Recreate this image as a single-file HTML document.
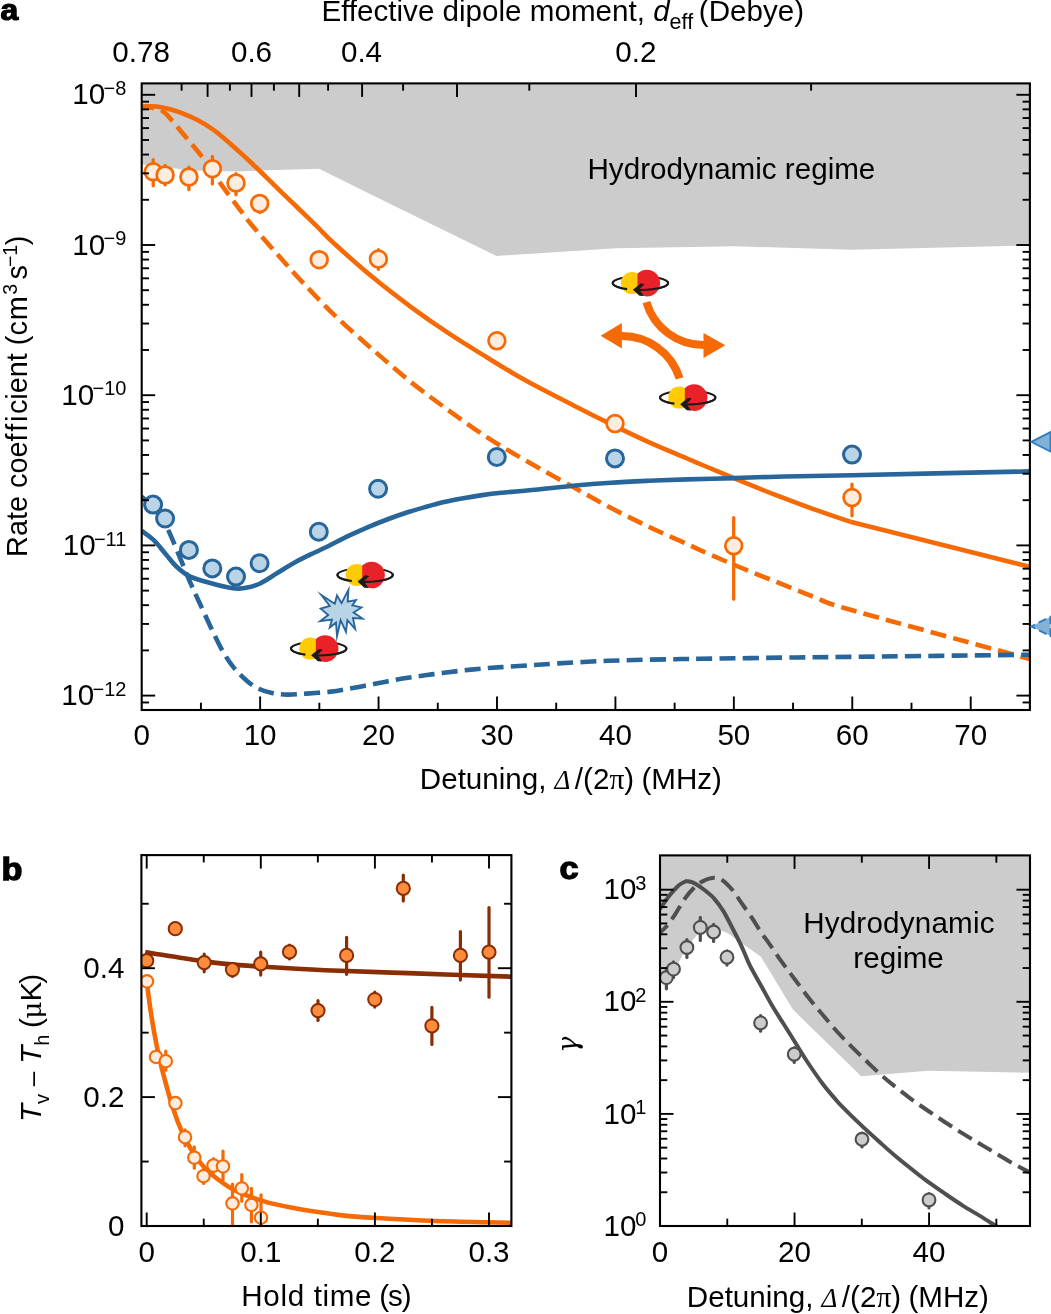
<!DOCTYPE html>
<html lang="en"><head><meta charset="utf-8"><title>Figure</title>
<style>html,body{margin:0;padding:0;background:#fff;}svg{display:block;}</style></head>
<body>
<svg width="1051" height="1314" viewBox="0 0 1051 1314">
<rect width="1051" height="1314" fill="#fff"/>
<clipPath id="clipA"><rect x="141.7" y="83.4" width="888.2" height="626.6"/></clipPath>
<g clip-path="url(#clipA)">
<path d="M141.7 83.4L1029.9 83.4L1029.9 245.5L852.3 249.8L735.7 246.3L616.4 248.2L496.5 256L378.6 198.3L319 168.7L260.1 170.6L236.4 171.5L212.8 170.9L189.1 170.4L165.4 167L153.5 165.5L141.7 164.5Z" fill="#cccccc"/>
<path d="M141.7 106.6C143.08 106.55 146.95 106.23 150 106.3C153.05 106.37 156.67 106.52 160 107C163.33 107.48 166.23 108.15 170 109.2C173.77 110.25 178.1 111.53 182.6 113.3C187.1 115.07 192.27 117.32 197 119.8C201.73 122.28 206.75 125.33 211 128.2C215.25 131.07 218.67 133.87 222.5 137C226.33 140.13 230.17 143.6 234 147C237.83 150.4 241.7 153.9 245.5 157.4C249.3 160.9 251.12 162.5 256.8 168C262.48 173.5 272.4 183.4 279.6 190.4C286.8 197.4 293.65 203.87 300 210C306.35 216.13 311.87 221.48 317.7 227.2C323.53 232.92 325.77 235.9 335 244.3C344.23 252.7 360.42 267.13 373.1 277.6C385.78 288.07 398.42 297.75 411.1 307.1C423.78 316.45 436.52 325.3 449.2 333.7C461.88 342.1 474.52 349.73 487.2 357.5C499.88 365.27 510.98 372.35 525.3 380.3C539.62 388.25 558.17 397.57 573.1 405.2C588.03 412.83 602.22 419.92 614.9 426.1C627.58 432.28 637.15 436.9 649.2 442.3C661.25 447.7 678.73 454.88 687.2 458.5C695.67 462.12 691.52 460.43 700 464C708.48 467.57 725.42 474.7 738.1 479.9C750.78 485.1 763.42 490.28 776.1 495.2C788.78 500.12 801.83 504.97 814.2 509.4C826.57 513.83 844.28 519.73 850.3 521.8" fill="none" stroke="#f66a05" stroke-width="4.6" stroke-linejoin="round"/>
<path d="M850.3 521.8L1029.9 566.8" fill="none" stroke="#f66a05" stroke-width="4.6" stroke-linejoin="round"/>
<path d="M141.7 106.6C143.08 106.73 147.62 107.03 150 107.4C152.38 107.77 153.75 108.1 156 108.8C158.25 109.5 160.83 109.65 163.5 111.6C166.17 113.55 168.82 116.88 172 120.5C175.18 124.12 177.67 127.37 182.6 133.3C187.53 139.23 195.27 147.7 201.6 156.1C207.93 164.5 214.25 174.82 220.6 183.7C226.95 192.58 234.3 202.27 239.7 209.4C245.1 216.53 246.62 218.9 253 226.5C259.38 234.1 269.68 245.63 278 255C286.32 264.37 293.4 272.6 302.9 282.7C312.4 292.8 323.3 304.4 335 315.6C346.7 326.8 360.42 338.8 373.1 349.9C385.78 361 398.42 372.05 411.1 382.2C423.78 392.35 436.52 401.6 449.2 410.8C461.88 420 474.52 429.15 487.2 437.4C499.88 445.65 510.98 452.03 525.3 460.3C539.62 468.57 558.8 479.05 573.1 487C587.4 494.95 598.42 501.33 611.1 508C623.78 514.67 636.52 520.98 649.2 527C661.88 533.02 678.25 540.05 687.2 544.1C696.15 548.15 694.42 547.57 702.9 551.3C711.38 555.03 725.9 561.42 738.1 566.5C750.3 571.58 763.42 576.72 776.1 581.8C788.78 586.88 801.52 592.25 814.2 597C826.88 601.75 816.25 599.97 852.2 610.3C888.15 620.63 1000.28 650.88 1029.9 659" fill="none" stroke="#f66a05" stroke-width="4.6" stroke-dasharray="16 7.2" stroke-linejoin="round" stroke-dashoffset="3.5"/>
<path d="M141.7 530.9C143.75 532.48 150.05 536.6 154 540.4C157.95 544.2 161.58 549.27 165.4 553.7C169.22 558.13 172.77 563.18 176.9 567C181.03 570.82 184.5 573.9 190.2 576.6C195.9 579.3 205.08 581.47 211.1 583.2C217.12 584.93 221.85 586.1 226.3 587C230.75 587.9 234.3 588.5 237.8 588.6C241.3 588.7 243.5 588.5 247.3 587.6C251.1 586.7 255.53 585.67 260.6 583.2C265.67 580.73 271.67 576.45 277.7 572.8C283.73 569.15 290.45 564.77 296.8 561.3C303.15 557.83 310.27 554.68 315.8 552C321.33 549.32 324.47 547.92 330 545.2C335.53 542.48 342.65 538.72 349 535.7C355.35 532.68 361.75 529.8 368.1 527.1C374.45 524.4 380.77 521.88 387.1 519.5C393.43 517.12 399.77 514.87 406.1 512.8C412.43 510.73 418.75 508.9 425.1 507.1C431.45 505.3 437.85 503.48 444.2 502C450.55 500.52 456.87 499.35 463.2 498.2C469.53 497.05 475.85 496 482.2 495.1C488.55 494.2 492.5 493.68 501.3 492.8C510.1 491.92 523.03 490.98 535 489.8C546.97 488.62 560.42 486.88 573.1 485.7C585.78 484.52 598.42 483.52 611.1 482.7C623.78 481.88 636.52 481.35 649.2 480.8C661.88 480.25 672.9 479.85 687.2 479.4C701.5 478.95 720.18 478.55 735 478.1C749.82 477.65 756.57 477.18 776.1 476.7C795.63 476.22 809.9 476.08 852.2 475.2C894.5 474.32 1000.28 472.03 1029.9 471.4" fill="none" stroke="#27659a" stroke-width="4.6" stroke-linejoin="round"/>
<path d="M141.7 496.6C143.58 498.33 149.12 502.43 153 507C156.88 511.57 161.97 519.07 165 524C168.03 528.93 168.58 530.7 171.2 536.6C173.82 542.5 177.53 551.78 180.7 559.4C183.87 567.02 187.03 575 190.2 582.3C193.37 589.6 196.22 595.6 199.7 603.2C203.18 610.8 207.3 619.97 211.1 627.9C214.9 635.83 218.68 644.13 222.5 650.8C226.32 657.47 229.87 662.83 234 667.9C238.13 672.97 243.18 677.72 247.3 681.2C251.42 684.68 254.58 686.83 258.7 688.8C262.82 690.77 267.25 692.03 272 693C276.75 693.97 281.48 694.5 287.2 694.6C292.92 694.7 299 694.1 306.3 693.6C313.6 693.1 323.88 692.43 331 691.6C338.12 690.77 342.82 689.67 349 688.6C355.18 687.53 361.75 686.4 368.1 685.2C374.45 684 380.77 682.6 387.1 681.4C393.43 680.2 399.77 679.02 406.1 678C412.43 676.98 418.75 676.17 425.1 675.3C431.45 674.43 437.85 673.6 444.2 672.8C450.55 672 456.87 671.2 463.2 670.5C469.53 669.8 475.85 669.17 482.2 668.6C488.55 668.03 493.68 667.63 501.3 667.1C508.92 666.57 518.43 666.02 527.9 665.4C537.37 664.78 546.73 664.08 558.1 663.4C569.47 662.72 583.42 661.87 596.1 661.3C608.78 660.73 621.22 660.35 634.2 660C647.18 659.65 663.03 659.4 674 659.2C684.97 659 679.82 659.08 700 658.8C720.18 658.52 770.1 657.82 795.1 657.5C820.1 657.18 810.87 657.37 850 656.9C889.13 656.43 999.92 655.07 1029.9 654.7" fill="none" stroke="#27659a" stroke-width="4.6" stroke-dasharray="16 7.2" stroke-linejoin="round" stroke-dashoffset="3.5"/>
</g>
<line x1="153.2" y1="159.65" x2="153.2" y2="185.85" stroke="#f66a05" stroke-width="3.3" stroke-linecap="round"/>
<line x1="165.1" y1="165.35" x2="165.1" y2="184.95" stroke="#f66a05" stroke-width="3.3" stroke-linecap="round"/>
<line x1="188.9" y1="167.25" x2="188.9" y2="189.65" stroke="#f66a05" stroke-width="3.3" stroke-linecap="round"/>
<line x1="212.4" y1="156.45" x2="212.4" y2="183.95" stroke="#f66a05" stroke-width="3.3" stroke-linecap="round"/>
<line x1="236" y1="173.55" x2="236" y2="194.85" stroke="#f66a05" stroke-width="3.3" stroke-linecap="round"/>
<line x1="259.7" y1="195.85" x2="259.7" y2="212.55" stroke="#f66a05" stroke-width="3.3" stroke-linecap="round"/>
<line x1="378.4" y1="249.65" x2="378.4" y2="269.25" stroke="#f66a05" stroke-width="3.3" stroke-linecap="round"/>
<line x1="733.7" y1="517.75" x2="733.7" y2="599.15" stroke="#f66a05" stroke-width="3.3" stroke-linecap="round"/>
<line x1="852" y1="484.05" x2="852" y2="515.75" stroke="#f66a05" stroke-width="3.3" stroke-linecap="round"/>
<circle cx="153.2" cy="171.8" r="8.4" fill="#feecdf" stroke="#f66a05" stroke-width="2.7"/>
<circle cx="165.1" cy="175" r="8.4" fill="#feecdf" stroke="#f66a05" stroke-width="2.7"/>
<circle cx="188.9" cy="177" r="8.4" fill="#feecdf" stroke="#f66a05" stroke-width="2.7"/>
<circle cx="212.4" cy="168.7" r="8.4" fill="#feecdf" stroke="#f66a05" stroke-width="2.7"/>
<circle cx="236" cy="183" r="8.4" fill="#feecdf" stroke="#f66a05" stroke-width="2.7"/>
<circle cx="259.7" cy="203.5" r="8.4" fill="#feecdf" stroke="#f66a05" stroke-width="2.7"/>
<circle cx="319.2" cy="259.7" r="8.4" fill="#feecdf" stroke="#f66a05" stroke-width="2.7"/>
<circle cx="378.4" cy="259.1" r="8.4" fill="#feecdf" stroke="#f66a05" stroke-width="2.7"/>
<circle cx="496.9" cy="340.8" r="8.4" fill="#feecdf" stroke="#f66a05" stroke-width="2.7"/>
<circle cx="615" cy="423.6" r="8.4" fill="#feecdf" stroke="#f66a05" stroke-width="2.7"/>
<circle cx="733.7" cy="545.8" r="8.4" fill="#feecdf" stroke="#f66a05" stroke-width="2.7"/>
<circle cx="852" cy="497.6" r="8.4" fill="#feecdf" stroke="#f66a05" stroke-width="2.7"/>
<circle cx="153.1" cy="504.6" r="8.5" fill="#bad4e7" stroke="#27659a" stroke-width="3"/>
<circle cx="165.1" cy="518.5" r="8.5" fill="#bad4e7" stroke="#27659a" stroke-width="3"/>
<circle cx="188.9" cy="549.9" r="8.5" fill="#bad4e7" stroke="#27659a" stroke-width="3"/>
<circle cx="212.3" cy="568.4" r="8.5" fill="#bad4e7" stroke="#27659a" stroke-width="3"/>
<circle cx="236" cy="576.6" r="8.5" fill="#bad4e7" stroke="#27659a" stroke-width="3"/>
<circle cx="259.6" cy="563.2" r="8.5" fill="#bad4e7" stroke="#27659a" stroke-width="3"/>
<circle cx="318.8" cy="531.8" r="8.5" fill="#bad4e7" stroke="#27659a" stroke-width="3"/>
<circle cx="378.1" cy="488.7" r="8.5" fill="#bad4e7" stroke="#27659a" stroke-width="3"/>
<circle cx="496.8" cy="457" r="8.5" fill="#bad4e7" stroke="#27659a" stroke-width="3"/>
<circle cx="615" cy="458.4" r="8.5" fill="#bad4e7" stroke="#27659a" stroke-width="3"/>
<circle cx="852" cy="454.6" r="8.5" fill="#bad4e7" stroke="#27659a" stroke-width="3"/>
<ellipse cx="365.1" cy="575" rx="27.7" ry="6.9" fill="none" stroke="#1a1a1a" stroke-width="1.9"/>
<circle cx="356.65" cy="575" r="11" fill="#ffcb05"/>
<path d="M362.2 565.54A13.3 13.3 0 1 1 362.2 584.46Z" fill="#e9222a"/>
<path d="M392.25 573.63A27.7 6.9 0 0 1 363.74 581.89" fill="none" stroke="#1a1a1a" stroke-width="2.1"/>
<path d="M351.84 581.06A27.7 6.9 0 0 1 338.32 573.24" fill="none" stroke="#1a1a1a" stroke-width="2.1"/>
<path d="M357.55 581.6L365.25 575.3L369.25 575.9L363.85 581.3L368.55 587.9L364.25 587.7Z" fill="#1a1a1a"/>
<ellipse cx="318.7" cy="648.6" rx="27.7" ry="6.9" fill="none" stroke="#1a1a1a" stroke-width="1.9"/>
<circle cx="310.25" cy="648.6" r="11" fill="#ffcb05"/>
<path d="M315.8 639.14A13.3 13.3 0 1 1 315.8 658.06Z" fill="#e9222a"/>
<path d="M345.85 647.23A27.7 6.9 0 0 1 317.34 655.49" fill="none" stroke="#1a1a1a" stroke-width="2.1"/>
<path d="M305.44 654.66A27.7 6.9 0 0 1 291.92 646.84" fill="none" stroke="#1a1a1a" stroke-width="2.1"/>
<path d="M311.15 655.2L318.85 648.9L322.85 649.5L317.45 654.9L322.15 661.5L317.85 661.3Z" fill="#1a1a1a"/>
<ellipse cx="640.4" cy="283.1" rx="27.7" ry="6.9" fill="none" stroke="#1a1a1a" stroke-width="1.9"/>
<circle cx="631.95" cy="283.1" r="11" fill="#ffcb05"/>
<path d="M637.5 273.64A13.3 13.3 0 1 1 637.5 292.56Z" fill="#e9222a"/>
<path d="M667.55 281.73A27.7 6.9 0 0 1 639.04 289.99" fill="none" stroke="#1a1a1a" stroke-width="2.1"/>
<path d="M627.14 289.16A27.7 6.9 0 0 1 613.62 281.34" fill="none" stroke="#1a1a1a" stroke-width="2.1"/>
<path d="M632.85 289.7L640.55 283.4L644.55 284L639.15 289.4L643.85 296L639.55 295.8Z" fill="#1a1a1a"/>
<ellipse cx="687.7" cy="397.6" rx="27.7" ry="6.9" fill="none" stroke="#1a1a1a" stroke-width="1.9"/>
<circle cx="679.25" cy="397.6" r="11" fill="#ffcb05"/>
<path d="M684.8 388.14A13.3 13.3 0 1 1 684.8 407.06Z" fill="#e9222a"/>
<path d="M714.85 396.23A27.7 6.9 0 0 1 686.34 404.49" fill="none" stroke="#1a1a1a" stroke-width="2.1"/>
<path d="M674.44 403.66A27.7 6.9 0 0 1 660.92 395.84" fill="none" stroke="#1a1a1a" stroke-width="2.1"/>
<path d="M680.15 404.2L687.85 397.9L691.85 398.5L686.45 403.9L691.15 410.5L686.85 410.3Z" fill="#1a1a1a"/>
<path d="M321.23 594.9L334.74 603.81L337.01 595.41L341.54 603.19L348.44 589.88L347.72 601.65L355.94 600.03L352.36 605.36L361.48 607.46L353.6 612.47L362.5 618.57L352.98 618.03L355.18 628.99L347.41 620.2L345.94 631.95L340.61 620.2L337.01 636.19L335.97 622.67L329.8 627.55L331.95 619.58L320.21 621.2L328.24 614.94L320.68 608.64L329.79 605.97Z" fill="#bad4e7" stroke="#27659a" stroke-width="1.85" stroke-linejoin="miter" stroke-miterlimit="12"/>
<path d="M646.4 302.1A59.5 59.5 0 0 0 704.5 345.0" fill="none" stroke="#f66a05" stroke-width="8"/>
<path d="M703.5 332.9L725.4 345.3L703.5 357.9Z" fill="#f66a05"/>
<path d="M679.6 378.4A60.2 60.2 0 0 0 621.0 336.0" fill="none" stroke="#f66a05" stroke-width="8"/>
<path d="M621.9 323.1L600.6 335.8L621.9 348.5Z" fill="#f66a05"/>
<line x1="200.91" y1="710" x2="200.91" y2="702.7" stroke="#000" stroke-width="1.9"/>
<line x1="260.13" y1="710" x2="260.13" y2="696.5" stroke="#000" stroke-width="1.9"/>
<line x1="319.35" y1="710" x2="319.35" y2="702.7" stroke="#000" stroke-width="1.9"/>
<line x1="378.56" y1="710" x2="378.56" y2="696.5" stroke="#000" stroke-width="1.9"/>
<line x1="437.77" y1="710" x2="437.77" y2="702.7" stroke="#000" stroke-width="1.9"/>
<line x1="496.99" y1="710" x2="496.99" y2="696.5" stroke="#000" stroke-width="1.9"/>
<line x1="556.2" y1="710" x2="556.2" y2="702.7" stroke="#000" stroke-width="1.9"/>
<line x1="615.42" y1="710" x2="615.42" y2="696.5" stroke="#000" stroke-width="1.9"/>
<line x1="674.63" y1="710" x2="674.63" y2="702.7" stroke="#000" stroke-width="1.9"/>
<line x1="733.85" y1="710" x2="733.85" y2="696.5" stroke="#000" stroke-width="1.9"/>
<line x1="793.07" y1="710" x2="793.07" y2="702.7" stroke="#000" stroke-width="1.9"/>
<line x1="852.28" y1="710" x2="852.28" y2="696.5" stroke="#000" stroke-width="1.9"/>
<line x1="911.49" y1="710" x2="911.49" y2="702.7" stroke="#000" stroke-width="1.9"/>
<line x1="970.71" y1="710" x2="970.71" y2="696.5" stroke="#000" stroke-width="1.9"/>
<line x1="207.6" y1="83.4" x2="207.6" y2="96.9" stroke="#000" stroke-width="1.9"/>
<line x1="251.5" y1="83.4" x2="251.5" y2="96.9" stroke="#000" stroke-width="1.9"/>
<line x1="299.2" y1="83.4" x2="299.2" y2="96.9" stroke="#000" stroke-width="1.9"/>
<line x1="362.1" y1="83.4" x2="362.1" y2="96.9" stroke="#000" stroke-width="1.9"/>
<line x1="457" y1="83.4" x2="457" y2="96.9" stroke="#000" stroke-width="1.9"/>
<line x1="636" y1="83.4" x2="636" y2="96.9" stroke="#000" stroke-width="1.9"/>
<line x1="181.6" y1="83.4" x2="181.6" y2="90.7" stroke="#000" stroke-width="1.9"/>
<line x1="229.9" y1="83.4" x2="229.9" y2="90.7" stroke="#000" stroke-width="1.9"/>
<line x1="273.9" y1="83.4" x2="273.9" y2="90.7" stroke="#000" stroke-width="1.9"/>
<line x1="328.1" y1="83.4" x2="328.1" y2="90.7" stroke="#000" stroke-width="1.9"/>
<line x1="403.1" y1="83.4" x2="403.1" y2="90.7" stroke="#000" stroke-width="1.9"/>
<line x1="529.3" y1="83.4" x2="529.3" y2="90.7" stroke="#000" stroke-width="1.9"/>
<line x1="811.1" y1="83.4" x2="811.1" y2="90.7" stroke="#000" stroke-width="1.9"/>
<line x1="141.7" y1="702.47" x2="149" y2="702.47" stroke="#000" stroke-width="1.9"/>
<line x1="1029.9" y1="702.47" x2="1022.6" y2="702.47" stroke="#000" stroke-width="1.9"/>
<line x1="141.7" y1="695.6" x2="155.2" y2="695.6" stroke="#000" stroke-width="1.9"/>
<line x1="1029.9" y1="695.6" x2="1016.4" y2="695.6" stroke="#000" stroke-width="1.9"/>
<line x1="141.7" y1="650.39" x2="149" y2="650.39" stroke="#000" stroke-width="1.9"/>
<line x1="1029.9" y1="650.39" x2="1022.6" y2="650.39" stroke="#000" stroke-width="1.9"/>
<line x1="141.7" y1="623.94" x2="149" y2="623.94" stroke="#000" stroke-width="1.9"/>
<line x1="1029.9" y1="623.94" x2="1022.6" y2="623.94" stroke="#000" stroke-width="1.9"/>
<line x1="141.7" y1="605.17" x2="149" y2="605.17" stroke="#000" stroke-width="1.9"/>
<line x1="1029.9" y1="605.17" x2="1022.6" y2="605.17" stroke="#000" stroke-width="1.9"/>
<line x1="141.7" y1="590.61" x2="149" y2="590.61" stroke="#000" stroke-width="1.9"/>
<line x1="1029.9" y1="590.61" x2="1022.6" y2="590.61" stroke="#000" stroke-width="1.9"/>
<line x1="141.7" y1="578.72" x2="149" y2="578.72" stroke="#000" stroke-width="1.9"/>
<line x1="1029.9" y1="578.72" x2="1022.6" y2="578.72" stroke="#000" stroke-width="1.9"/>
<line x1="141.7" y1="568.67" x2="149" y2="568.67" stroke="#000" stroke-width="1.9"/>
<line x1="1029.9" y1="568.67" x2="1022.6" y2="568.67" stroke="#000" stroke-width="1.9"/>
<line x1="141.7" y1="559.96" x2="149" y2="559.96" stroke="#000" stroke-width="1.9"/>
<line x1="1029.9" y1="559.96" x2="1022.6" y2="559.96" stroke="#000" stroke-width="1.9"/>
<line x1="141.7" y1="552.27" x2="149" y2="552.27" stroke="#000" stroke-width="1.9"/>
<line x1="1029.9" y1="552.27" x2="1022.6" y2="552.27" stroke="#000" stroke-width="1.9"/>
<line x1="141.7" y1="545.4" x2="155.2" y2="545.4" stroke="#000" stroke-width="1.9"/>
<line x1="1029.9" y1="545.4" x2="1016.4" y2="545.4" stroke="#000" stroke-width="1.9"/>
<line x1="141.7" y1="500.19" x2="149" y2="500.19" stroke="#000" stroke-width="1.9"/>
<line x1="1029.9" y1="500.19" x2="1022.6" y2="500.19" stroke="#000" stroke-width="1.9"/>
<line x1="141.7" y1="473.74" x2="149" y2="473.74" stroke="#000" stroke-width="1.9"/>
<line x1="1029.9" y1="473.74" x2="1022.6" y2="473.74" stroke="#000" stroke-width="1.9"/>
<line x1="141.7" y1="454.97" x2="149" y2="454.97" stroke="#000" stroke-width="1.9"/>
<line x1="1029.9" y1="454.97" x2="1022.6" y2="454.97" stroke="#000" stroke-width="1.9"/>
<line x1="141.7" y1="440.41" x2="149" y2="440.41" stroke="#000" stroke-width="1.9"/>
<line x1="1029.9" y1="440.41" x2="1022.6" y2="440.41" stroke="#000" stroke-width="1.9"/>
<line x1="141.7" y1="428.52" x2="149" y2="428.52" stroke="#000" stroke-width="1.9"/>
<line x1="1029.9" y1="428.52" x2="1022.6" y2="428.52" stroke="#000" stroke-width="1.9"/>
<line x1="141.7" y1="418.47" x2="149" y2="418.47" stroke="#000" stroke-width="1.9"/>
<line x1="1029.9" y1="418.47" x2="1022.6" y2="418.47" stroke="#000" stroke-width="1.9"/>
<line x1="141.7" y1="409.76" x2="149" y2="409.76" stroke="#000" stroke-width="1.9"/>
<line x1="1029.9" y1="409.76" x2="1022.6" y2="409.76" stroke="#000" stroke-width="1.9"/>
<line x1="141.7" y1="402.07" x2="149" y2="402.07" stroke="#000" stroke-width="1.9"/>
<line x1="1029.9" y1="402.07" x2="1022.6" y2="402.07" stroke="#000" stroke-width="1.9"/>
<line x1="141.7" y1="395.2" x2="155.2" y2="395.2" stroke="#000" stroke-width="1.9"/>
<line x1="1029.9" y1="395.2" x2="1016.4" y2="395.2" stroke="#000" stroke-width="1.9"/>
<line x1="141.7" y1="349.99" x2="149" y2="349.99" stroke="#000" stroke-width="1.9"/>
<line x1="1029.9" y1="349.99" x2="1022.6" y2="349.99" stroke="#000" stroke-width="1.9"/>
<line x1="141.7" y1="323.54" x2="149" y2="323.54" stroke="#000" stroke-width="1.9"/>
<line x1="1029.9" y1="323.54" x2="1022.6" y2="323.54" stroke="#000" stroke-width="1.9"/>
<line x1="141.7" y1="304.77" x2="149" y2="304.77" stroke="#000" stroke-width="1.9"/>
<line x1="1029.9" y1="304.77" x2="1022.6" y2="304.77" stroke="#000" stroke-width="1.9"/>
<line x1="141.7" y1="290.21" x2="149" y2="290.21" stroke="#000" stroke-width="1.9"/>
<line x1="1029.9" y1="290.21" x2="1022.6" y2="290.21" stroke="#000" stroke-width="1.9"/>
<line x1="141.7" y1="278.32" x2="149" y2="278.32" stroke="#000" stroke-width="1.9"/>
<line x1="1029.9" y1="278.32" x2="1022.6" y2="278.32" stroke="#000" stroke-width="1.9"/>
<line x1="141.7" y1="268.27" x2="149" y2="268.27" stroke="#000" stroke-width="1.9"/>
<line x1="1029.9" y1="268.27" x2="1022.6" y2="268.27" stroke="#000" stroke-width="1.9"/>
<line x1="141.7" y1="259.56" x2="149" y2="259.56" stroke="#000" stroke-width="1.9"/>
<line x1="1029.9" y1="259.56" x2="1022.6" y2="259.56" stroke="#000" stroke-width="1.9"/>
<line x1="141.7" y1="251.87" x2="149" y2="251.87" stroke="#000" stroke-width="1.9"/>
<line x1="1029.9" y1="251.87" x2="1022.6" y2="251.87" stroke="#000" stroke-width="1.9"/>
<line x1="141.7" y1="245" x2="155.2" y2="245" stroke="#000" stroke-width="1.9"/>
<line x1="1029.9" y1="245" x2="1016.4" y2="245" stroke="#000" stroke-width="1.9"/>
<line x1="141.7" y1="199.79" x2="149" y2="199.79" stroke="#000" stroke-width="1.9"/>
<line x1="1029.9" y1="199.79" x2="1022.6" y2="199.79" stroke="#000" stroke-width="1.9"/>
<line x1="141.7" y1="173.34" x2="149" y2="173.34" stroke="#000" stroke-width="1.9"/>
<line x1="1029.9" y1="173.34" x2="1022.6" y2="173.34" stroke="#000" stroke-width="1.9"/>
<line x1="141.7" y1="154.57" x2="149" y2="154.57" stroke="#000" stroke-width="1.9"/>
<line x1="1029.9" y1="154.57" x2="1022.6" y2="154.57" stroke="#000" stroke-width="1.9"/>
<line x1="141.7" y1="140.01" x2="149" y2="140.01" stroke="#000" stroke-width="1.9"/>
<line x1="1029.9" y1="140.01" x2="1022.6" y2="140.01" stroke="#000" stroke-width="1.9"/>
<line x1="141.7" y1="128.12" x2="149" y2="128.12" stroke="#000" stroke-width="1.9"/>
<line x1="1029.9" y1="128.12" x2="1022.6" y2="128.12" stroke="#000" stroke-width="1.9"/>
<line x1="141.7" y1="118.07" x2="149" y2="118.07" stroke="#000" stroke-width="1.9"/>
<line x1="1029.9" y1="118.07" x2="1022.6" y2="118.07" stroke="#000" stroke-width="1.9"/>
<line x1="141.7" y1="109.36" x2="149" y2="109.36" stroke="#000" stroke-width="1.9"/>
<line x1="1029.9" y1="109.36" x2="1022.6" y2="109.36" stroke="#000" stroke-width="1.9"/>
<line x1="141.7" y1="101.67" x2="149" y2="101.67" stroke="#000" stroke-width="1.9"/>
<line x1="1029.9" y1="101.67" x2="1022.6" y2="101.67" stroke="#000" stroke-width="1.9"/>
<line x1="141.7" y1="94.8" x2="155.2" y2="94.8" stroke="#000" stroke-width="1.9"/>
<line x1="1029.9" y1="94.8" x2="1016.4" y2="94.8" stroke="#000" stroke-width="1.9"/>
<rect x="141.7" y="83.4" width="888.2" height="626.6" fill="none" stroke="#000" stroke-width="2.1"/>
<path d="M1031.3 441.8L1050.5 432.1L1050.5 451.5Z" fill="#82b3d6" stroke="#2d7dc0" stroke-width="1.9" stroke-linejoin="miter"/>
<path d="M1031.3 626.4L1050.5 616.7L1050.5 636.1Z" fill="#82b3d6" stroke="#2d7dc0" stroke-width="1.9" stroke-dasharray="8.4 4.0" stroke-dashoffset="4.2"/>
<clipPath id="clipB"><rect x="141.4" y="855.1" width="370" height="370.9"/></clipPath>
<g clip-path="url(#clipB)">
<path d="M145.2 951.9C147.67 952.35 154.6 953.7 160 954.6C165.4 955.5 170.93 956.28 177.6 957.3C184.27 958.32 192.07 959.6 200 960.7C207.93 961.8 214.67 962.88 225.2 963.9C235.73 964.92 246.57 965.75 263.2 966.8C279.83 967.85 299.68 969.1 325 970.2C350.32 971.3 384.03 972.32 415.1 973.4C446.17 974.48 495.35 976.15 511.4 976.7" fill="none" stroke="#8a2d04" stroke-width="4.6" stroke-linejoin="round"/>
<path d="M147 984C147.72 989.23 149.7 1005.2 151.3 1015.4C152.9 1025.6 154.83 1036.33 156.6 1045.2C158.37 1054.07 159.23 1058.3 161.9 1068.6C164.57 1078.9 169.05 1095.98 172.6 1107C176.15 1118.02 179.65 1126.9 183.2 1134.7C186.75 1142.5 190.35 1148.3 193.9 1153.8C197.45 1159.3 200.95 1163.78 204.5 1167.7C208.05 1171.62 210.58 1173.75 215.2 1177.3C219.82 1180.85 226.52 1185.82 232.2 1189C237.88 1192.18 243.27 1194.13 249.3 1196.4C255.33 1198.67 261.67 1200.78 268.4 1202.6C275.13 1204.42 282.6 1205.9 289.7 1207.3C296.8 1208.7 301.92 1209.62 311 1211C320.08 1212.38 333.92 1214.47 344.2 1215.6C354.48 1216.73 358.43 1216.93 372.7 1217.8C386.97 1218.67 410.77 1220.05 429.8 1220.8C448.83 1221.55 473.3 1221.97 486.9 1222.3C500.5 1222.63 507.32 1222.72 511.4 1222.8" fill="none" stroke="#f66a05" stroke-width="4.6" stroke-linejoin="round"/>
<line x1="204.2" y1="954.1" x2="204.2" y2="971.8" stroke="#8a2d04" stroke-width="3.2" stroke-linecap="round"/>
<line x1="232.4" y1="964.6" x2="232.4" y2="976.6" stroke="#8a2d04" stroke-width="3.2" stroke-linecap="round"/>
<line x1="260.7" y1="952.2" x2="260.7" y2="975.1" stroke="#8a2d04" stroke-width="3.2" stroke-linecap="round"/>
<line x1="289.5" y1="945.2" x2="289.5" y2="958.9" stroke="#8a2d04" stroke-width="3.2" stroke-linecap="round"/>
<line x1="318" y1="1000.7" x2="318" y2="1020.4" stroke="#8a2d04" stroke-width="3.2" stroke-linecap="round"/>
<line x1="346.6" y1="937.4" x2="346.6" y2="974.3" stroke="#8a2d04" stroke-width="3.2" stroke-linecap="round"/>
<line x1="374.8" y1="992.2" x2="374.8" y2="1007.1" stroke="#8a2d04" stroke-width="3.2" stroke-linecap="round"/>
<line x1="403.3" y1="875.1" x2="403.3" y2="900.9" stroke="#8a2d04" stroke-width="3.2" stroke-linecap="round"/>
<line x1="431.9" y1="1007.4" x2="431.9" y2="1044.4" stroke="#8a2d04" stroke-width="3.2" stroke-linecap="round"/>
<line x1="460.4" y1="931.6" x2="460.4" y2="980" stroke="#8a2d04" stroke-width="3.2" stroke-linecap="round"/>
<line x1="489" y1="907.5" x2="489" y2="997.2" stroke="#8a2d04" stroke-width="3.2" stroke-linecap="round"/>
<circle cx="146.7" cy="960.7" r="6.6" fill="#fd8d3c" stroke="#8a2d04" stroke-width="2"/>
<circle cx="175.3" cy="928.7" r="6.6" fill="#fd8d3c" stroke="#8a2d04" stroke-width="2"/>
<circle cx="204.2" cy="962.6" r="6.6" fill="#fd8d3c" stroke="#8a2d04" stroke-width="2"/>
<circle cx="232.4" cy="969.6" r="6.6" fill="#fd8d3c" stroke="#8a2d04" stroke-width="2"/>
<circle cx="260.7" cy="963.9" r="6.6" fill="#fd8d3c" stroke="#8a2d04" stroke-width="2"/>
<circle cx="289.5" cy="951.9" r="6.6" fill="#fd8d3c" stroke="#8a2d04" stroke-width="2"/>
<circle cx="318" cy="1010.6" r="6.6" fill="#fd8d3c" stroke="#8a2d04" stroke-width="2"/>
<circle cx="346.6" cy="955.4" r="6.6" fill="#fd8d3c" stroke="#8a2d04" stroke-width="2"/>
<circle cx="374.8" cy="999.5" r="6.6" fill="#fd8d3c" stroke="#8a2d04" stroke-width="2"/>
<circle cx="403.3" cy="888.4" r="6.6" fill="#fd8d3c" stroke="#8a2d04" stroke-width="2"/>
<circle cx="431.9" cy="1025.8" r="6.6" fill="#fd8d3c" stroke="#8a2d04" stroke-width="2"/>
<circle cx="460.4" cy="955.4" r="6.6" fill="#fd8d3c" stroke="#8a2d04" stroke-width="2"/>
<circle cx="489" cy="952.1" r="6.6" fill="#fd8d3c" stroke="#8a2d04" stroke-width="2"/>
<line x1="165.8" y1="1051.1" x2="165.8" y2="1070.2" stroke="#f66a05" stroke-width="3.2" stroke-linecap="round"/>
<line x1="185" y1="1129.9" x2="185" y2="1145.8" stroke="#f66a05" stroke-width="3.2" stroke-linecap="round"/>
<line x1="194.3" y1="1146.9" x2="194.3" y2="1168.2" stroke="#f66a05" stroke-width="3.2" stroke-linecap="round"/>
<line x1="203.5" y1="1169.6" x2="203.5" y2="1183.4" stroke="#f66a05" stroke-width="3.2" stroke-linecap="round"/>
<line x1="213.5" y1="1158.6" x2="213.5" y2="1172.4" stroke="#f66a05" stroke-width="3.2" stroke-linecap="round"/>
<line x1="223" y1="1151.2" x2="223" y2="1179.9" stroke="#f66a05" stroke-width="3.2" stroke-linecap="round"/>
<line x1="232.5" y1="1184.2" x2="232.5" y2="1224.4" stroke="#f66a05" stroke-width="3.2" stroke-linecap="round"/>
<line x1="241.8" y1="1174.6" x2="241.8" y2="1201.2" stroke="#f66a05" stroke-width="3.2" stroke-linecap="round"/>
<line x1="251.4" y1="1188.4" x2="251.4" y2="1221.9" stroke="#f66a05" stroke-width="3.2" stroke-linecap="round"/>
<line x1="261" y1="1194.8" x2="261" y2="1224.4" stroke="#f66a05" stroke-width="3.2" stroke-linecap="round"/>
<circle cx="147" cy="981.3" r="6.2" fill="#feecdf" stroke="#f66a05" stroke-width="2.1"/>
<circle cx="156" cy="1056.9" r="6.2" fill="#feecdf" stroke="#f66a05" stroke-width="2.1"/>
<circle cx="165.8" cy="1061.2" r="6.2" fill="#feecdf" stroke="#f66a05" stroke-width="2.1"/>
<circle cx="175.4" cy="1103.1" r="6.2" fill="#feecdf" stroke="#f66a05" stroke-width="2.1"/>
<circle cx="185" cy="1137.2" r="6.2" fill="#feecdf" stroke="#f66a05" stroke-width="2.1"/>
<circle cx="194.3" cy="1157.7" r="6.2" fill="#feecdf" stroke="#f66a05" stroke-width="2.1"/>
<circle cx="203.5" cy="1176.2" r="6.2" fill="#feecdf" stroke="#f66a05" stroke-width="2.1"/>
<circle cx="213.5" cy="1165.5" r="6.2" fill="#feecdf" stroke="#f66a05" stroke-width="2.1"/>
<circle cx="223" cy="1166.4" r="6.2" fill="#feecdf" stroke="#f66a05" stroke-width="2.1"/>
<circle cx="232.5" cy="1203.3" r="6.2" fill="#feecdf" stroke="#f66a05" stroke-width="2.1"/>
<circle cx="241.8" cy="1188.4" r="6.2" fill="#feecdf" stroke="#f66a05" stroke-width="2.1"/>
<circle cx="251.4" cy="1204.8" r="6.2" fill="#feecdf" stroke="#f66a05" stroke-width="2.1"/>
<circle cx="261" cy="1217.7" r="6.2" fill="#feecdf" stroke="#f66a05" stroke-width="2.1"/>
</g>
<line x1="146.7" y1="1226" x2="146.7" y2="1212.5" stroke="#000" stroke-width="1.9"/>
<line x1="146.7" y1="855.1" x2="146.7" y2="868.6" stroke="#000" stroke-width="1.9"/>
<line x1="203.75" y1="1226" x2="203.75" y2="1218.7" stroke="#000" stroke-width="1.9"/>
<line x1="203.75" y1="855.1" x2="203.75" y2="862.4" stroke="#000" stroke-width="1.9"/>
<line x1="260.8" y1="1226" x2="260.8" y2="1212.5" stroke="#000" stroke-width="1.9"/>
<line x1="260.8" y1="855.1" x2="260.8" y2="868.6" stroke="#000" stroke-width="1.9"/>
<line x1="317.85" y1="1226" x2="317.85" y2="1218.7" stroke="#000" stroke-width="1.9"/>
<line x1="317.85" y1="855.1" x2="317.85" y2="862.4" stroke="#000" stroke-width="1.9"/>
<line x1="374.9" y1="1226" x2="374.9" y2="1212.5" stroke="#000" stroke-width="1.9"/>
<line x1="374.9" y1="855.1" x2="374.9" y2="868.6" stroke="#000" stroke-width="1.9"/>
<line x1="431.95" y1="1226" x2="431.95" y2="1218.7" stroke="#000" stroke-width="1.9"/>
<line x1="431.95" y1="855.1" x2="431.95" y2="862.4" stroke="#000" stroke-width="1.9"/>
<line x1="489" y1="1226" x2="489" y2="1212.5" stroke="#000" stroke-width="1.9"/>
<line x1="489" y1="855.1" x2="489" y2="868.6" stroke="#000" stroke-width="1.9"/>
<line x1="141.4" y1="1161.55" x2="148.7" y2="1161.55" stroke="#000" stroke-width="1.9"/>
<line x1="511.4" y1="1161.55" x2="504.1" y2="1161.55" stroke="#000" stroke-width="1.9"/>
<line x1="141.4" y1="1097.1" x2="154.9" y2="1097.1" stroke="#000" stroke-width="1.9"/>
<line x1="511.4" y1="1097.1" x2="497.9" y2="1097.1" stroke="#000" stroke-width="1.9"/>
<line x1="141.4" y1="1032.65" x2="148.7" y2="1032.65" stroke="#000" stroke-width="1.9"/>
<line x1="511.4" y1="1032.65" x2="504.1" y2="1032.65" stroke="#000" stroke-width="1.9"/>
<line x1="141.4" y1="968.2" x2="154.9" y2="968.2" stroke="#000" stroke-width="1.9"/>
<line x1="511.4" y1="968.2" x2="497.9" y2="968.2" stroke="#000" stroke-width="1.9"/>
<line x1="141.4" y1="903.75" x2="148.7" y2="903.75" stroke="#000" stroke-width="1.9"/>
<line x1="511.4" y1="903.75" x2="504.1" y2="903.75" stroke="#000" stroke-width="1.9"/>
<rect x="141.4" y="855.1" width="370" height="370.9" fill="none" stroke="#000" stroke-width="2.1"/>
<clipPath id="clipC"><rect x="660" y="855.4" width="370" height="370.6"/></clipPath>
<g clip-path="url(#clipC)">
<path d="M660 855.4L1030 855.4L1030 1072.8L928.3 1070.7L861.2 1076.2L792.9 1009.6L760.9 956.7L727.3 933.1L713.8 927.4L700.4 931L686.9 947.4L673.5 971.4L666.7 978.8L660 982Z" fill="#cccccc"/>
<path d="M660 909C661.45 906.92 665.73 900.28 668.7 896.5C671.67 892.72 675.42 888.62 677.8 886.3C680.18 883.98 681.57 883.47 683 882.6C684.43 881.73 685.83 881.35 686.4 881.1L686.4 881.1C687.08 881.22 689.07 881.42 690.5 881.8C691.93 882.18 692.73 882.08 695 883.4C697.27 884.72 700.87 887.13 704.1 889.7C707.33 892.27 711.17 895.18 714.4 898.8C717.63 902.42 720.47 906.45 723.5 911.4C726.53 916.35 729.55 922.6 732.6 928.5C735.65 934.4 738.9 940.6 741.8 946.8C744.7 953 746.73 959.13 750 965.7C753.27 972.27 757.6 979.35 761.4 986.2C765.2 993.05 768.98 1000.33 772.8 1006.8C776.62 1013.27 780.48 1018.92 784.3 1025C788.12 1031.08 791.9 1037.22 795.7 1043.3C799.5 1049.38 802.58 1054.72 807.1 1061.5C811.62 1068.28 818.27 1077.93 822.8 1084C827.33 1090.07 831.43 1094.52 834.3 1097.9C837.17 1101.28 835.88 1100.1 840 1104.3C844.12 1108.5 852.5 1116.9 859 1123.1C865.5 1129.3 872.78 1135.88 879 1141.5C885.22 1147.12 889.47 1151.08 896.3 1156.8C903.13 1162.52 914.63 1171.57 920 1175.8C925.37 1180.03 924.22 1179.13 928.5 1182.2C932.78 1185.27 939.98 1190.3 945.7 1194.2C951.42 1198.1 957.1 1201.98 962.8 1205.6C968.5 1209.22 974.77 1212.75 979.9 1215.9C985.03 1219.05 989.75 1222.07 993.6 1224.5C997.45 1226.93 1001.43 1229.5 1003 1230.5" fill="none" stroke="#4f4f4f" stroke-width="4.0" stroke-linejoin="round"/>
<path d="M660 932.6C661.27 931.35 665 928.25 667.6 925.1C670.2 921.95 672.75 918.08 675.6 913.7C678.45 909.32 681.67 903.08 684.7 898.8C687.73 894.52 690.75 890.95 693.8 888C696.85 885.05 699.57 882.82 703 881.1C706.43 879.38 710.98 877.7 714.4 877.7C717.82 877.7 720.47 879 723.5 881.1C726.53 883.2 729.55 886.58 732.6 890.3C735.65 894.02 738.55 898.75 741.8 903.4C745.05 908.05 748.68 913.07 752.1 918.2C755.52 923.33 759.6 930.18 762.3 934.2C765 938.22 765.02 937.63 768.3 942.3C771.58 946.97 777.43 955.83 782 962.2C786.57 968.57 791.13 974.4 795.7 980.5C800.27 986.6 804.83 993 809.4 998.8C813.97 1004.6 818.35 1009.68 823.1 1015.3C827.85 1020.92 832.95 1027.07 837.9 1032.5C842.85 1037.93 847.85 1042.95 852.8 1047.9C857.75 1052.85 862.55 1057.4 867.6 1062.2C872.65 1067 876.22 1070.85 883.1 1076.7C889.98 1082.55 900.3 1090.87 908.9 1097.3C917.5 1103.73 926.1 1109.5 934.7 1115.3C943.3 1121.1 951.9 1126.72 960.5 1132.1C969.1 1137.48 977.7 1142.45 986.3 1147.6C994.9 1152.75 1004.82 1158.83 1012.1 1163C1019.38 1167.17 1027.02 1171 1030 1172.6" fill="none" stroke="#4f4f4f" stroke-width="4" stroke-dasharray="16 7.2" stroke-linejoin="round" stroke-dashoffset="5.5"/>
<line x1="666.4" y1="968.4" x2="666.4" y2="988.8" stroke="#4f4f4f" stroke-width="3.2" stroke-linecap="round"/>
<line x1="673.5" y1="961.9" x2="673.5" y2="977.6" stroke="#4f4f4f" stroke-width="3.2" stroke-linecap="round"/>
<line x1="686.9" y1="939.6" x2="686.9" y2="957.4" stroke="#4f4f4f" stroke-width="3.2" stroke-linecap="round"/>
<line x1="700.3" y1="917.4" x2="700.3" y2="940.4" stroke="#4f4f4f" stroke-width="3.2" stroke-linecap="round"/>
<line x1="713.6" y1="924.3" x2="713.6" y2="941.4" stroke="#4f4f4f" stroke-width="3.2" stroke-linecap="round"/>
<line x1="727" y1="950.8" x2="727" y2="965.1" stroke="#4f4f4f" stroke-width="3.2" stroke-linecap="round"/>
<line x1="760.6" y1="1015.6" x2="760.6" y2="1031.2" stroke="#4f4f4f" stroke-width="3.2" stroke-linecap="round"/>
<line x1="794.2" y1="1047.6" x2="794.2" y2="1062.4" stroke="#4f4f4f" stroke-width="3.2" stroke-linecap="round"/>
<line x1="862" y1="1133.1" x2="862" y2="1146.9" stroke="#4f4f4f" stroke-width="3.2" stroke-linecap="round"/>
<line x1="929" y1="1193.6" x2="929" y2="1207.9" stroke="#4f4f4f" stroke-width="3.2" stroke-linecap="round"/>
<circle cx="666.4" cy="977.6" r="6.4" fill="#cccccc" stroke="#4f4f4f" stroke-width="2.1"/>
<circle cx="673.5" cy="969.1" r="6.4" fill="#cccccc" stroke="#4f4f4f" stroke-width="2.1"/>
<circle cx="686.9" cy="947.5" r="6.4" fill="#cccccc" stroke="#4f4f4f" stroke-width="2.1"/>
<circle cx="700.3" cy="927.4" r="6.4" fill="#cccccc" stroke="#4f4f4f" stroke-width="2.1"/>
<circle cx="713.6" cy="932" r="6.4" fill="#cccccc" stroke="#4f4f4f" stroke-width="2.1"/>
<circle cx="727" cy="957.2" r="6.4" fill="#cccccc" stroke="#4f4f4f" stroke-width="2.1"/>
<circle cx="760.6" cy="1022.9" r="6.4" fill="#cccccc" stroke="#4f4f4f" stroke-width="2.1"/>
<circle cx="794.2" cy="1054.2" r="6.4" fill="#cccccc" stroke="#4f4f4f" stroke-width="2.1"/>
<circle cx="862" cy="1139.3" r="6.4" fill="#cccccc" stroke="#4f4f4f" stroke-width="2.1"/>
<circle cx="929" cy="1199.9" r="6.4" fill="#cccccc" stroke="#4f4f4f" stroke-width="2.1"/>
</g>
<line x1="727.27" y1="1226" x2="727.27" y2="1218.7" stroke="#000" stroke-width="1.9"/>
<line x1="727.27" y1="855.4" x2="727.27" y2="862.7" stroke="#000" stroke-width="1.9"/>
<line x1="794.54" y1="1226" x2="794.54" y2="1212.5" stroke="#000" stroke-width="1.9"/>
<line x1="794.54" y1="855.4" x2="794.54" y2="868.9" stroke="#000" stroke-width="1.9"/>
<line x1="861.81" y1="1226" x2="861.81" y2="1218.7" stroke="#000" stroke-width="1.9"/>
<line x1="861.81" y1="855.4" x2="861.81" y2="862.7" stroke="#000" stroke-width="1.9"/>
<line x1="929.08" y1="1226" x2="929.08" y2="1212.5" stroke="#000" stroke-width="1.9"/>
<line x1="929.08" y1="855.4" x2="929.08" y2="868.9" stroke="#000" stroke-width="1.9"/>
<line x1="996.35" y1="1226" x2="996.35" y2="1218.7" stroke="#000" stroke-width="1.9"/>
<line x1="996.35" y1="855.4" x2="996.35" y2="862.7" stroke="#000" stroke-width="1.9"/>
<line x1="660" y1="1192.25" x2="667.3" y2="1192.25" stroke="#000" stroke-width="1.9"/>
<line x1="1030" y1="1192.25" x2="1022.7" y2="1192.25" stroke="#000" stroke-width="1.9"/>
<line x1="660" y1="1172.51" x2="667.3" y2="1172.51" stroke="#000" stroke-width="1.9"/>
<line x1="1030" y1="1172.51" x2="1022.7" y2="1172.51" stroke="#000" stroke-width="1.9"/>
<line x1="660" y1="1158.51" x2="667.3" y2="1158.51" stroke="#000" stroke-width="1.9"/>
<line x1="1030" y1="1158.51" x2="1022.7" y2="1158.51" stroke="#000" stroke-width="1.9"/>
<line x1="660" y1="1147.65" x2="667.3" y2="1147.65" stroke="#000" stroke-width="1.9"/>
<line x1="1030" y1="1147.65" x2="1022.7" y2="1147.65" stroke="#000" stroke-width="1.9"/>
<line x1="660" y1="1138.77" x2="667.3" y2="1138.77" stroke="#000" stroke-width="1.9"/>
<line x1="1030" y1="1138.77" x2="1022.7" y2="1138.77" stroke="#000" stroke-width="1.9"/>
<line x1="660" y1="1131.26" x2="667.3" y2="1131.26" stroke="#000" stroke-width="1.9"/>
<line x1="1030" y1="1131.26" x2="1022.7" y2="1131.26" stroke="#000" stroke-width="1.9"/>
<line x1="660" y1="1124.76" x2="667.3" y2="1124.76" stroke="#000" stroke-width="1.9"/>
<line x1="1030" y1="1124.76" x2="1022.7" y2="1124.76" stroke="#000" stroke-width="1.9"/>
<line x1="660" y1="1119.03" x2="667.3" y2="1119.03" stroke="#000" stroke-width="1.9"/>
<line x1="1030" y1="1119.03" x2="1022.7" y2="1119.03" stroke="#000" stroke-width="1.9"/>
<line x1="660" y1="1113.9" x2="673.5" y2="1113.9" stroke="#000" stroke-width="1.9"/>
<line x1="1030" y1="1113.9" x2="1016.5" y2="1113.9" stroke="#000" stroke-width="1.9"/>
<line x1="660" y1="1080.15" x2="667.3" y2="1080.15" stroke="#000" stroke-width="1.9"/>
<line x1="1030" y1="1080.15" x2="1022.7" y2="1080.15" stroke="#000" stroke-width="1.9"/>
<line x1="660" y1="1060.41" x2="667.3" y2="1060.41" stroke="#000" stroke-width="1.9"/>
<line x1="1030" y1="1060.41" x2="1022.7" y2="1060.41" stroke="#000" stroke-width="1.9"/>
<line x1="660" y1="1046.41" x2="667.3" y2="1046.41" stroke="#000" stroke-width="1.9"/>
<line x1="1030" y1="1046.41" x2="1022.7" y2="1046.41" stroke="#000" stroke-width="1.9"/>
<line x1="660" y1="1035.55" x2="667.3" y2="1035.55" stroke="#000" stroke-width="1.9"/>
<line x1="1030" y1="1035.55" x2="1022.7" y2="1035.55" stroke="#000" stroke-width="1.9"/>
<line x1="660" y1="1026.67" x2="667.3" y2="1026.67" stroke="#000" stroke-width="1.9"/>
<line x1="1030" y1="1026.67" x2="1022.7" y2="1026.67" stroke="#000" stroke-width="1.9"/>
<line x1="660" y1="1019.16" x2="667.3" y2="1019.16" stroke="#000" stroke-width="1.9"/>
<line x1="1030" y1="1019.16" x2="1022.7" y2="1019.16" stroke="#000" stroke-width="1.9"/>
<line x1="660" y1="1012.66" x2="667.3" y2="1012.66" stroke="#000" stroke-width="1.9"/>
<line x1="1030" y1="1012.66" x2="1022.7" y2="1012.66" stroke="#000" stroke-width="1.9"/>
<line x1="660" y1="1006.93" x2="667.3" y2="1006.93" stroke="#000" stroke-width="1.9"/>
<line x1="1030" y1="1006.93" x2="1022.7" y2="1006.93" stroke="#000" stroke-width="1.9"/>
<line x1="660" y1="1001.8" x2="673.5" y2="1001.8" stroke="#000" stroke-width="1.9"/>
<line x1="1030" y1="1001.8" x2="1016.5" y2="1001.8" stroke="#000" stroke-width="1.9"/>
<line x1="660" y1="968.05" x2="667.3" y2="968.05" stroke="#000" stroke-width="1.9"/>
<line x1="1030" y1="968.05" x2="1022.7" y2="968.05" stroke="#000" stroke-width="1.9"/>
<line x1="660" y1="948.31" x2="667.3" y2="948.31" stroke="#000" stroke-width="1.9"/>
<line x1="1030" y1="948.31" x2="1022.7" y2="948.31" stroke="#000" stroke-width="1.9"/>
<line x1="660" y1="934.31" x2="667.3" y2="934.31" stroke="#000" stroke-width="1.9"/>
<line x1="1030" y1="934.31" x2="1022.7" y2="934.31" stroke="#000" stroke-width="1.9"/>
<line x1="660" y1="923.45" x2="667.3" y2="923.45" stroke="#000" stroke-width="1.9"/>
<line x1="1030" y1="923.45" x2="1022.7" y2="923.45" stroke="#000" stroke-width="1.9"/>
<line x1="660" y1="914.57" x2="667.3" y2="914.57" stroke="#000" stroke-width="1.9"/>
<line x1="1030" y1="914.57" x2="1022.7" y2="914.57" stroke="#000" stroke-width="1.9"/>
<line x1="660" y1="907.06" x2="667.3" y2="907.06" stroke="#000" stroke-width="1.9"/>
<line x1="1030" y1="907.06" x2="1022.7" y2="907.06" stroke="#000" stroke-width="1.9"/>
<line x1="660" y1="900.56" x2="667.3" y2="900.56" stroke="#000" stroke-width="1.9"/>
<line x1="1030" y1="900.56" x2="1022.7" y2="900.56" stroke="#000" stroke-width="1.9"/>
<line x1="660" y1="894.83" x2="667.3" y2="894.83" stroke="#000" stroke-width="1.9"/>
<line x1="1030" y1="894.83" x2="1022.7" y2="894.83" stroke="#000" stroke-width="1.9"/>
<line x1="660" y1="889.7" x2="673.5" y2="889.7" stroke="#000" stroke-width="1.9"/>
<line x1="1030" y1="889.7" x2="1016.5" y2="889.7" stroke="#000" stroke-width="1.9"/>
<rect x="660" y="855.4" width="370" height="370.6" fill="none" stroke="#000" stroke-width="2.1"/>
<g opacity="0.999">
<text transform="translate(0.4 19.7) scale(1.08 1)" font-family='"Liberation Sans", sans-serif' font-size="29.5" font-weight="bold" stroke="#000" stroke-width="1.2">a</text>
<text x="321.4" y="21" font-family='"Liberation Sans", sans-serif' font-size="29.6">Effective dipole moment, <tspan font-style="italic">d</tspan><tspan font-size="21.5" dy="7.5">eff</tspan><tspan dy="-7.5" dx="-2.5"> (Debye)</tspan></text>
<text x="141.1" y="62.3" font-family='"Liberation Sans", sans-serif' font-size="29.6" text-anchor="middle">0.78</text>
<text x="251.5" y="62.3" font-family='"Liberation Sans", sans-serif' font-size="29.6" text-anchor="middle">0.6</text>
<text x="361.5" y="62.3" font-family='"Liberation Sans", sans-serif' font-size="29.6" text-anchor="middle">0.4</text>
<text x="635.8" y="62.3" font-family='"Liberation Sans", sans-serif' font-size="29.6" text-anchor="middle">0.2</text>
<text x="141.7" y="745.2" font-family='"Liberation Sans", sans-serif' font-size="29.6" text-anchor="middle">0</text>
<text x="260.13" y="745.2" font-family='"Liberation Sans", sans-serif' font-size="29.6" text-anchor="middle">10</text>
<text x="378.56" y="745.2" font-family='"Liberation Sans", sans-serif' font-size="29.6" text-anchor="middle">20</text>
<text x="496.99" y="745.2" font-family='"Liberation Sans", sans-serif' font-size="29.6" text-anchor="middle">30</text>
<text x="615.42" y="745.2" font-family='"Liberation Sans", sans-serif' font-size="29.6" text-anchor="middle">40</text>
<text x="733.85" y="745.2" font-family='"Liberation Sans", sans-serif' font-size="29.6" text-anchor="middle">50</text>
<text x="852.28" y="745.2" font-family='"Liberation Sans", sans-serif' font-size="29.6" text-anchor="middle">60</text>
<text x="970.71" y="745.2" font-family='"Liberation Sans", sans-serif' font-size="29.6" text-anchor="middle">70</text>
<text x="126.4" y="705.2" font-family='"Liberation Sans", sans-serif' font-size="29.6" text-anchor="end">10<tspan font-size="20" dy="-9.4" dx="-1.7">−12</tspan></text>
<text x="126.4" y="555" font-family='"Liberation Sans", sans-serif' font-size="29.6" text-anchor="end">10<tspan font-size="20" dy="-9.4" dx="-1.7">−11</tspan></text>
<text x="126.4" y="404.8" font-family='"Liberation Sans", sans-serif' font-size="29.6" text-anchor="end">10<tspan font-size="20" dy="-9.4" dx="-1.7">−10</tspan></text>
<text x="126.4" y="254.6" font-family='"Liberation Sans", sans-serif' font-size="29.6" text-anchor="end">10<tspan font-size="20" dy="-9.4" dx="-1.7">−9</tspan></text>
<text x="126.4" y="104.4" font-family='"Liberation Sans", sans-serif' font-size="29.6" text-anchor="end">10<tspan font-size="20" dy="-9.4" dx="-1.7">−8</tspan></text>
<text transform="translate(26.8 556.9) rotate(-90) scale(0.975 1)" font-family='"Liberation Sans", sans-serif' font-size="29.6">Rate coef<tspan dx="1.7">f</tspan><tspan dx="1.7">i</tspan><tspan dx="1.6">cient (c</tspan><tspan dx="1">m</tspan><tspan font-size="20" dy="-9.4" dx="1.5">3</tspan><tspan dy="9.4" dx="-3.8"> s</tspan><tspan font-size="20" dy="-9.4" dx="-2.0">−1</tspan><tspan dy="9.4" dx="-0.5">)</tspan></text>
<text x="419.8" y="788.8" font-family='"Liberation Sans", sans-serif' font-size="29.6">Detuning,<tspan font-family='"Liberation Serif", serif' font-style="italic" font-size="27" dx="8">Δ</tspan><tspan dx="4.5">/(2</tspan><tspan font-family='"Liberation Serif", serif'>π</tspan>)<tspan dx="-1"> (MHz)</tspan></text>
<text x="587.5" y="178.7" font-family='"Liberation Sans", sans-serif' font-size="29.6">Hydrodynamic regime</text>
<text transform="translate(1.4 879.8) scale(1.09 1)" font-family='"Liberation Sans", sans-serif' font-size="31.5" font-weight="bold" stroke="#000" stroke-width="1.3">b</text>
<text x="124.5" y="978.4" font-family='"Liberation Sans", sans-serif' font-size="29.6" text-anchor="end">0.4</text>
<text x="124.5" y="1107.3" font-family='"Liberation Sans", sans-serif' font-size="29.6" text-anchor="end">0.2</text>
<text x="124.5" y="1236.2" font-family='"Liberation Sans", sans-serif' font-size="29.6" text-anchor="end">0</text>
<text x="146.7" y="1262.2" font-family='"Liberation Sans", sans-serif' font-size="29.6" text-anchor="middle">0</text>
<text x="260.8" y="1262.2" font-family='"Liberation Sans", sans-serif' font-size="29.6" text-anchor="middle">0.1</text>
<text x="374.9" y="1262.2" font-family='"Liberation Sans", sans-serif' font-size="29.6" text-anchor="middle">0.2</text>
<text x="489" y="1262.2" font-family='"Liberation Sans", sans-serif' font-size="29.6" text-anchor="middle">0.3</text>
<text x="241.2" y="1306.4" font-family='"Liberation Sans", sans-serif' font-size="29.6"><tspan letter-spacing="0.7">Hold</tspan><tspan letter-spacing="0.6"> time</tspan><tspan letter-spacing="-1"> (s)</tspan></text>
<text transform="translate(40.5 1122.0) rotate(-90)" font-family='"Liberation Sans", sans-serif' font-size="29.6"><tspan font-style="italic">T</tspan><tspan font-size="20" dy="8.5">v</tspan><tspan dy="-8.5" dx="0.5" font-size="26"> –</tspan><tspan dx="-0.3"> </tspan><tspan font-style="italic">T</tspan><tspan font-size="20" dy="8.5">h</tspan><tspan dy="-8.5" dx="-1.6"> (</tspan><tspan font-family='"DejaVu Serif", serif' font-size="26.5" dx="-0.5">μ</tspan><tspan dx="0">K</tspan><tspan dx="-2">)</tspan></text>
<text transform="translate(559.4 879.0) scale(1.12 1)" font-family='"Liberation Sans", sans-serif' font-size="30.5" font-weight="bold" stroke="#000" stroke-width="1.3">c</text>
<text x="646.4" y="1235.6" font-family='"Liberation Sans", sans-serif' font-size="29.6" text-anchor="end">10<tspan font-size="20" dy="-9.4" dx="-1.2">0</tspan></text>
<text x="646.4" y="1123.5" font-family='"Liberation Sans", sans-serif' font-size="29.6" text-anchor="end">10<tspan font-size="20" dy="-9.4" dx="-1.2">1</tspan></text>
<text x="646.4" y="1011.4" font-family='"Liberation Sans", sans-serif' font-size="29.6" text-anchor="end">10<tspan font-size="20" dy="-9.4" dx="-1.2">2</tspan></text>
<text x="646.4" y="899.3" font-family='"Liberation Sans", sans-serif' font-size="29.6" text-anchor="end">10<tspan font-size="20" dy="-9.4" dx="-1.2">3</tspan></text>
<text x="660" y="1262" font-family='"Liberation Sans", sans-serif' font-size="29.6" text-anchor="middle">0</text>
<text x="794.54" y="1262" font-family='"Liberation Sans", sans-serif' font-size="29.6" text-anchor="middle">20</text>
<text x="929.08" y="1262" font-family='"Liberation Sans", sans-serif' font-size="29.6" text-anchor="middle">40</text>
<text x="686.8" y="1306.8" font-family='"Liberation Sans", sans-serif' font-size="29.6">Detuning,<tspan font-family='"Liberation Serif", serif' font-style="italic" font-size="27" dx="8">Δ</tspan><tspan dx="4.5">/(2</tspan><tspan font-family='"Liberation Serif", serif'>π</tspan>)<tspan dx="-1"> (MHz)</tspan></text>
<text x="898.9" y="932.8" font-family='"Liberation Sans", sans-serif' font-size="29.6" text-anchor="middle" letter-spacing="0.2">Hydrodynamic</text>
<text x="898.6" y="968.2" font-family='"Liberation Sans", sans-serif' font-size="29.6" text-anchor="middle">regime</text>
<text transform="translate(577 1052.8) rotate(-90)" font-family='"DejaVu Serif", serif' font-size="27" font-style="italic">γ</text>
</g>
</svg>
</body></html>
